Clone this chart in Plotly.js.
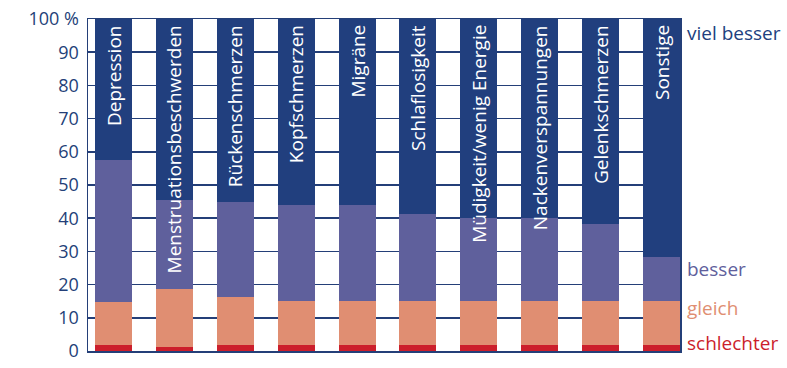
<!DOCTYPE html>
<html>
<head>
<meta charset="utf-8">
<script src="https://cdn.plot.ly/plotly-3.0.1.min.js"></script>
<style>html,body{margin:0;padding:0;background:#fff;}#chart{width:787px;height:368px;}</style>
</head>
<body>
<div id="chart"></div>
<script>
const categories = ["Depression","Menstruationsbeschwerden","Rückenschmerzen","Kopfschmerzen","Migräne","Schlaflosigkeit","Müdigkeit/wenig Energie","Nackenverspannungen","Gelenkschmerzen","Sonstige"];
const schlechter = [1.8, 1.2, 1.8, 1.8, 1.8, 1.8, 1.8, 1.8, 1.8, 1.8];
const gleich     = [13.0, 17.6, 14.6, 13.3, 13.3, 13.3, 13.3, 13.3, 13.3, 13.3];
const besser     = [42.7, 26.7, 28.5, 29.0, 29.0, 26.2, 24.9, 24.9, 23.2, 13.3];
const vielBesser = [42.5, 54.5, 55.1, 55.9, 55.9, 58.7, 60.0, 60.0, 61.7, 71.6];
const seriesNames = ["schlechter","gleich","besser","viel besser"];
const seriesColors = ["#cc1e2b","#e08e72","#5f609c","#213f7e"];
const tickVals = [0,10,20,30,40,50,60,70,80,90,100];
const tickText = ["0","10","20","30","40","50","60","70","80","90","100 %"];
const legendY = [2.4, 12.9, 24.6, 95.8];

const seriesData = [schlechter, gleich, besser, vielBesser];
const navy = "#243f78";
const traces = seriesData.map((vals, i) => ({
  type: "bar", x: categories, y: vals, name: seriesNames[i],
  marker: {color: seriesColors[i], line: {width: 0}}, width: 0.608,
  hoverinfo: "skip"
}));

const annotations = categories.map(c => ({
  x: c, y: 100, xref: "x", yref: "y", text: c, showarrow: false,
  textangle: -90, xanchor: "center", yanchor: "top", yshift: -4,
  font: {family: "Open Sans, sans-serif", size: 19, color: "#ffffff"}
}));
seriesNames.forEach((n, i) => annotations.push({
  x: 1, y: legendY[i], xref: "paper", yref: "y", text: n, showarrow: false,
  xanchor: "left", yanchor: "middle", xshift: 5,
  font: {family: "Open Sans, sans-serif", size: 19, color: seriesColors[i]}
}));

const layout = {
  width: 787, height: 368,
  margin: {l: 88, r: 107, t: 19, b: 17, pad: 0},
  paper_bgcolor: "#ffffff", plot_bgcolor: "#ffffff",
  barmode: "stack", showlegend: false,
  font: {family: "Open Sans, sans-serif", color: navy},
  xaxis: {type: "category", range: [-0.419, 9.304], showticklabels: false, ticks: "",
          showgrid: false, zeroline: false, showline: true, mirror: true, linecolor: navy, linewidth: 1.5, fixedrange: true},
  yaxis: {range: [0, 100], tickvals: tickVals, ticktext: tickText, ticks: "",
          showgrid: true, gridcolor: navy, gridwidth: 1.5, zeroline: false,
          showline: true, mirror: true, linecolor: navy, linewidth: 1.5,
          tickfont: {family: "Open Sans, sans-serif", size: 18, color: navy}, ticklabelstandoff: 4, fixedrange: true},
  annotations: annotations
};
Plotly.newPlot("chart", traces, layout, {displayModeBar: false, staticPlot: true});
</script>
</body>
</html>
